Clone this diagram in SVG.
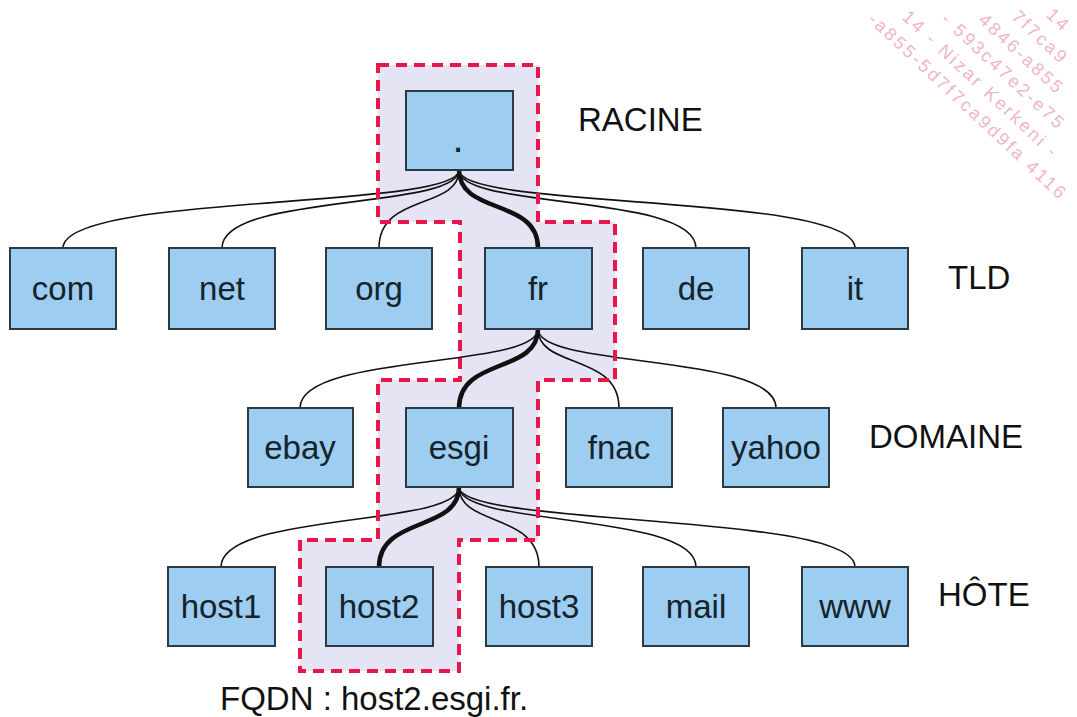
<svg xmlns="http://www.w3.org/2000/svg" width="1077" height="717" viewBox="0 0 1077 717">
<style>
.box{fill:#9dcdf0;stroke:#2b3b44;stroke-width:2}
.nt{font-family:"Liberation Sans",Arial,sans-serif;font-size:33px;fill:#15232b;text-anchor:middle}
.lbl{font-family:"Liberation Sans",Arial,sans-serif;font-size:33px;fill:#111}
.c{fill:none;stroke:#111;stroke-width:1.6}
.ch{fill:none;stroke:#111;stroke-width:4.5;stroke-linecap:round}
.wm{font-family:"Liberation Sans",Arial,sans-serif;font-size:18px;letter-spacing:2.6px;fill:#f0b6c6}
</style>
<rect width="1077" height="717" fill="#ffffff"/>
<g id="watermark" transform="translate(877,28) rotate(43)">
<text class="wm" x="-12" y="1.5">-a855-5d7f7ca9d9fa 4116</text>
<text class="wm" x="11" y="-23.5">14 - Nizar Kerkeni -</text>
<text class="wm" x="41" y="-48.5">- 593c47e2-e75</text>
<text class="wm" x="69" y="-73.5">4846-a855</text>
<text class="wm" x="91" y="-98.5">7f7ca9</text>
<text class="wm" x="115" y="-123.5">14</text>
</g>
<g id="path-highlight">
<polygon points="378,65 538,65 538,222 615,222 615,380 538,380 538,540 459,540 459,671 300,671 300,540 378,540 378,380 460,380 460,222 378,222" fill="#e4e4f5" stroke="none"/>
</g>
<g id="connectors">
<path class="c" d="M459 170 C459 210,63 193,63 248"/>
<path class="c" d="M459 170 C459 210,222 193,222 248"/>
<path class="c" d="M459 170 C459 210,379 193,379 248"/>
<path class="c" d="M459 170 C459 210,696 193,696 248"/>
<path class="c" d="M459 170 C459 210,855 193,855 248"/>
<path class="ch" d="M459 170 C459 215,538 198,538 248"/>
<path class="c" d="M538 329 C538 369,300 353,300 408"/>
<path class="c" d="M538 329 C538 369,619 353,619 408"/>
<path class="c" d="M538 329 C538 369,776 353,776 408"/>
<path class="ch" d="M538 329 C538 374,459 357,459 408"/>
<path class="c" d="M459 487 C459 527,221 512,221 567"/>
<path class="c" d="M459 487 C459 527,539 512,539 567"/>
<path class="c" d="M459 487 C459 527,696 512,696 567"/>
<path class="c" d="M459 487 C459 527,855 512,855 567"/>
<path class="ch" d="M459 487 C459 532,379 516,379 567"/>
</g>
<g id="path-outline">
<polygon points="378,65 538,65 538,222 615,222 615,380 538,380 538,540 459,540 459,671 300,671 300,540 378,540 378,380 460,380 460,222 378,222" fill="none" stroke="#e8174b" stroke-width="4" stroke-dasharray="11 7"/>
</g>
<g id="node-root"><rect class="box" x="406" y="91" width="107" height="79"/><text class="nt" x="458" y="152" style="font-size:40px">.</text></g>
<g id="node-com"><rect class="box" x="10" y="248" width="106" height="81"/><text class="nt" x="63" y="300">com</text></g>
<g id="node-net"><rect class="box" x="169" y="248" width="106" height="81"/><text class="nt" x="222" y="300">net</text></g>
<g id="node-org"><rect class="box" x="326" y="248" width="106" height="81"/><text class="nt" x="379" y="300">org</text></g>
<g id="node-fr"><rect class="box" x="485" y="248" width="107" height="81"/><text class="nt" x="538" y="300">fr</text></g>
<g id="node-de"><rect class="box" x="643" y="248" width="106" height="81"/><text class="nt" x="696" y="300">de</text></g>
<g id="node-it"><rect class="box" x="802" y="248" width="106" height="81"/><text class="nt" x="855" y="300">it</text></g>
<g id="node-ebay"><rect class="box" x="248" y="408" width="105" height="79"/><text class="nt" x="300" y="459">ebay</text></g>
<g id="node-esgi"><rect class="box" x="406" y="408" width="107" height="79"/><text class="nt" x="459" y="459">esgi</text></g>
<g id="node-fnac"><rect class="box" x="566" y="408" width="106" height="79"/><text class="nt" x="619" y="459">fnac</text></g>
<g id="node-yahoo"><rect class="box" x="723" y="408" width="106" height="79"/><text class="nt" x="776" y="459">yahoo</text></g>
<g id="node-host1"><rect class="box" x="168" y="567" width="107" height="79"/><text class="nt" x="221" y="618">host1</text></g>
<g id="node-host2"><rect class="box" x="326" y="567" width="107" height="79"/><text class="nt" x="379" y="618">host2</text></g>
<g id="node-host3"><rect class="box" x="486" y="567" width="106" height="79"/><text class="nt" x="539" y="618">host3</text></g>
<g id="node-mail"><rect class="box" x="643" y="567" width="106" height="79"/><text class="nt" x="696" y="618">mail</text></g>
<g id="node-www"><rect class="box" x="802" y="567" width="106" height="79"/><text class="nt" x="855" y="618">www</text></g>
<g id="labels">
<text class="lbl" x="578" y="131">RACINE</text>
<text class="lbl" x="948" y="289">TLD</text>
<text class="lbl" x="869" y="448">DOMAINE</text>
<text class="lbl" x="938" y="606">HÔTE</text>
<text class="lbl" x="220" y="710">FQDN : host2.esgi.fr.</text>
</g>
</svg>
